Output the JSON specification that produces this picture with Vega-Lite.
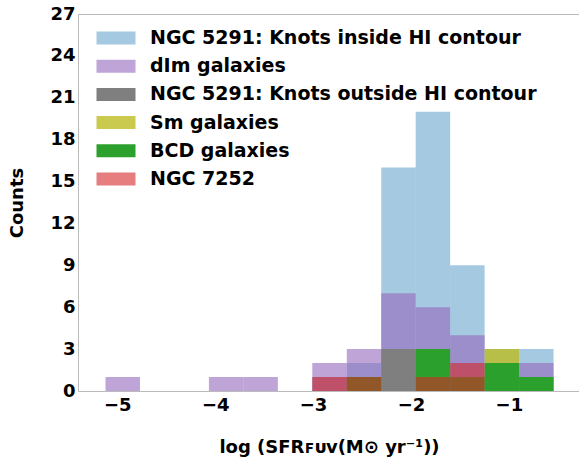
{
  "$schema": "https://vega.github.io/schema/vega-lite/v6.json",
  "autosize": "none",
  "width": 502,
  "height": 377,
  "padding": {"left": 78, "top": 14, "right": 0, "bottom": 71},
  "background": "white",
  "config": {
    "font": "DejaVu Sans",
    "view": {"stroke": "#bbbbbb", "strokeWidth": 1},
    "axis": {
      "domainColor": "#bbbbbb",
      "ticks": false,
      "grid": false,
      "labelFont": "DejaVu Sans",
      "labelFontWeight": "bold",
      "labelFontSize": 18,
      "labelColor": "black",
      "titleFont": "DejaVu Sans",
      "titleFontWeight": "bold",
      "titleFontSize": 18,
      "titleColor": "black"
    },
    "legend": {
      "orient": "none",
      "legendX": 28.5,
      "legendY": 14.5,
      "title": null,
      "symbolType": "M-3,-1H3V1H-3Z",
      "symbolSize": 169,
      "symbolStrokeWidth": 0,
      "labelFont": "DejaVu Sans",
      "labelFontSize": 19,
      "labelFontWeight": "bold",
      "labelColor": "black",
      "labelOffset": 24.5,
      "rowPadding": 8.2,
      "labelLimit": 0
    }
  },
  "data": {
    "values": [
      {"cat": "NGC 5291: Knots inside HI contour", "start": -3.008, "end": -2.656, "count": 1},
      {"cat": "NGC 5291: Knots inside HI contour", "start": -2.656, "end": -2.304, "count": 2},
      {"cat": "NGC 5291: Knots inside HI contour", "start": -2.304, "end": -1.952, "count": 16},
      {"cat": "NGC 5291: Knots inside HI contour", "start": -1.952, "end": -1.6, "count": 20},
      {"cat": "NGC 5291: Knots inside HI contour", "start": -1.6, "end": -1.248, "count": 9},
      {"cat": "NGC 5291: Knots inside HI contour", "start": -1.248, "end": -0.896, "count": 3},
      {"cat": "NGC 5291: Knots inside HI contour", "start": -0.896, "end": -0.544, "count": 3},
      {"cat": "dIm galaxies", "start": -5.12, "end": -4.768, "count": 1},
      {"cat": "dIm galaxies", "start": -4.064, "end": -3.712, "count": 1},
      {"cat": "dIm galaxies", "start": -3.712, "end": -3.36, "count": 1},
      {"cat": "dIm galaxies", "start": -3.008, "end": -2.656, "count": 2},
      {"cat": "dIm galaxies", "start": -2.656, "end": -2.304, "count": 3},
      {"cat": "dIm galaxies", "start": -2.304, "end": -1.952, "count": 7},
      {"cat": "dIm galaxies", "start": -1.952, "end": -1.6, "count": 6},
      {"cat": "dIm galaxies", "start": -1.6, "end": -1.248, "count": 4},
      {"cat": "dIm galaxies", "start": -0.896, "end": -0.544, "count": 2},
      {"cat": "NGC 5291: Knots outside HI contour", "start": -2.304, "end": -1.952, "count": 3},
      {"cat": "Sm galaxies", "start": -1.248, "end": -0.896, "count": 3},
      {"cat": "BCD galaxies", "start": -2.656, "end": -2.304, "count": 1},
      {"cat": "BCD galaxies", "start": -1.952, "end": -1.6, "count": 3},
      {"cat": "BCD galaxies", "start": -1.6, "end": -1.248, "count": 1},
      {"cat": "BCD galaxies", "start": -1.248, "end": -0.896, "count": 2},
      {"cat": "BCD galaxies", "start": -0.896, "end": -0.544, "count": 1},
      {"cat": "NGC 7252", "start": -3.008, "end": -2.656, "count": 1},
      {"cat": "NGC 7252", "start": -2.656, "end": -2.304, "count": 1},
      {"cat": "NGC 7252", "start": -1.952, "end": -1.6, "count": 1},
      {"cat": "NGC 7252", "start": -1.6, "end": -1.248, "count": 2}
    ]
  },
  "mark": {"type": "bar", "strokeWidth": 0, "orient": "vertical"},
  "encoding": {
    "x": {
      "field": "start",
      "type": "quantitative",
      "scale": {"domain": [-5.35, -0.325], "nice": false, "zero": false},
      "axis": {"values": [-5, -4, -3, -2, -1], "labelPadding": 5, "title": "log (SFRꜰᴜᴠ(M⊙ yr⁻¹))", "titlePadding": 24}
    },
    "x2": {"field": "end"},
    "y": {
      "field": "count",
      "type": "quantitative",
      "stack": null,
      "scale": {"domain": [0, 27], "nice": false},
      "axis": {"values": [0, 3, 6, 9, 12, 15, 18, 21, 24, 27], "labelPadding": 3, "title": "Counts", "titlePadding": 23}
    },
    "y2": {"datum": 0},
    "color": {
      "field": "cat",
      "type": "nominal",
      "sort": null,
      "scale": {
        "domain": ["NGC 5291: Knots inside HI contour", "dIm galaxies", "NGC 5291: Knots outside HI contour", "Sm galaxies", "BCD galaxies", "NGC 7252"],
        "range": ["#1f77b4", "#9467bd", "#7f7f7f", "#bcbd22", "#2ca02c", "#d62728"]
      }
    },
    "opacity": {
      "field": "cat",
      "type": "nominal",
      "sort": null,
      "scale": {
        "type": "ordinal",
        "domain": ["NGC 5291: Knots inside HI contour", "dIm galaxies", "NGC 5291: Knots outside HI contour", "Sm galaxies", "BCD galaxies", "NGC 7252"],
        "range": [0.4, 0.6, 1, 0.8, 1, 0.6]
      }
    }
  }
}
